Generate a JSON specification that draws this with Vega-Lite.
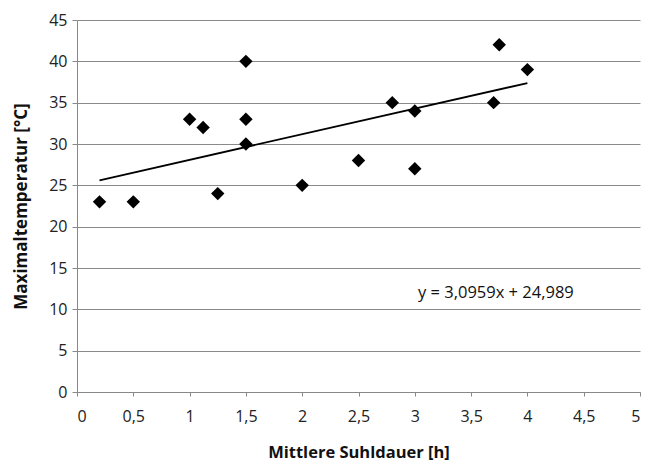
{
  "$schema": "https://vega.github.io/schema/vega-lite/v6.json",
  "width": 563,
  "height": 372,
  "autosize": {"type": "none"},
  "padding": {"left": 77, "top": 20, "right": 17, "bottom": 70},
  "background": "white",
  "config": {"view": {"stroke": null}, "font": "Open Sans"},
  "datasets": {
    "points": [
      {"x": 0.2, "y": 23}, {"x": 0.5, "y": 23}, {"x": 1.0, "y": 33}, {"x": 1.12, "y": 32},
      {"x": 1.25, "y": 24}, {"x": 1.5, "y": 40}, {"x": 1.5, "y": 33}, {"x": 1.5, "y": 30},
      {"x": 2.0, "y": 25}, {"x": 2.5, "y": 28}, {"x": 2.8, "y": 35}, {"x": 3.0, "y": 34},
      {"x": 3.0, "y": 27}, {"x": 3.7, "y": 35}, {"x": 3.75, "y": 42}, {"x": 4.0, "y": 39}
    ],
    "trend": [{"x": 0.2, "y": 25.608}, {"x": 4.0, "y": 37.373}],
    "label": [{"x": 3.72, "y": 12.0, "t": "y = 3,0959x + 24,989"}]
  },
  "layer": [
    {
      "data": {"name": "points"},
      "mark": {"type": "point", "shape": "diamond", "filled": true, "color": "black", "size": 180, "opacity": 1},
      "encoding": {
        "x": {
          "field": "x", "type": "quantitative",
          "scale": {"domain": [0, 5], "nice": false, "zero": true},
          "axis": {
            "title": "Mittlere Suhldauer [h]", "values": [0, 0.5, 1, 1.5, 2, 2.5, 3, 3.5, 4, 4.5, 5],
            "labelExpr": "replace(format(datum.value, '~g'), '.', ',')", "grid": false,
            "domainColor": "#888", "tickColor": "#888", "tickSize": 4,
            "labelFontSize": 16, "labelColor": "#222", "labelPadding": 12,
            "titleFontSize": 16.5, "titleFontWeight": "bold", "titleColor": "#111", "titlePadding": 20,
            "labelFont": "Open Sans", "titleFont": "Open Sans"
          }
        },
        "y": {
          "field": "y", "type": "quantitative",
          "scale": {"domain": [0, 45], "nice": false},
          "axis": {
            "title": "Maximaltemperatur [°C]", "values": [0, 5, 10, 15, 20, 25, 30, 35, 40, 45],
            "grid": true, "gridColor": "#8a8a8a", "gridWidth": 1.2,
            "domainColor": "#888", "tickColor": "#888", "tickSize": 5,
            "labelFontSize": 16, "labelColor": "#222", "labelPadding": 5,
            "titleFontSize": 17, "titleFontWeight": "bold", "titleColor": "#111", "titlePadding": 18,
            "labelFont": "Open Sans", "titleFont": "Open Sans"
          }
        }
      }
    },
    {
      "data": {"name": "trend"},
      "mark": {"type": "line", "color": "black", "strokeWidth": 1.8},
      "encoding": {
        "x": {"field": "x", "type": "quantitative"},
        "y": {"field": "y", "type": "quantitative"}
      }
    },
    {
      "data": {"name": "label"},
      "mark": {"type": "text", "fontSize": 16.5, "color": "#111", "align": "center", "baseline": "middle", "font": "Open Sans"},
      "encoding": {
        "x": {"field": "x", "type": "quantitative"},
        "y": {"field": "y", "type": "quantitative"},
        "text": {"field": "t"}
      }
    }
  ]
}
